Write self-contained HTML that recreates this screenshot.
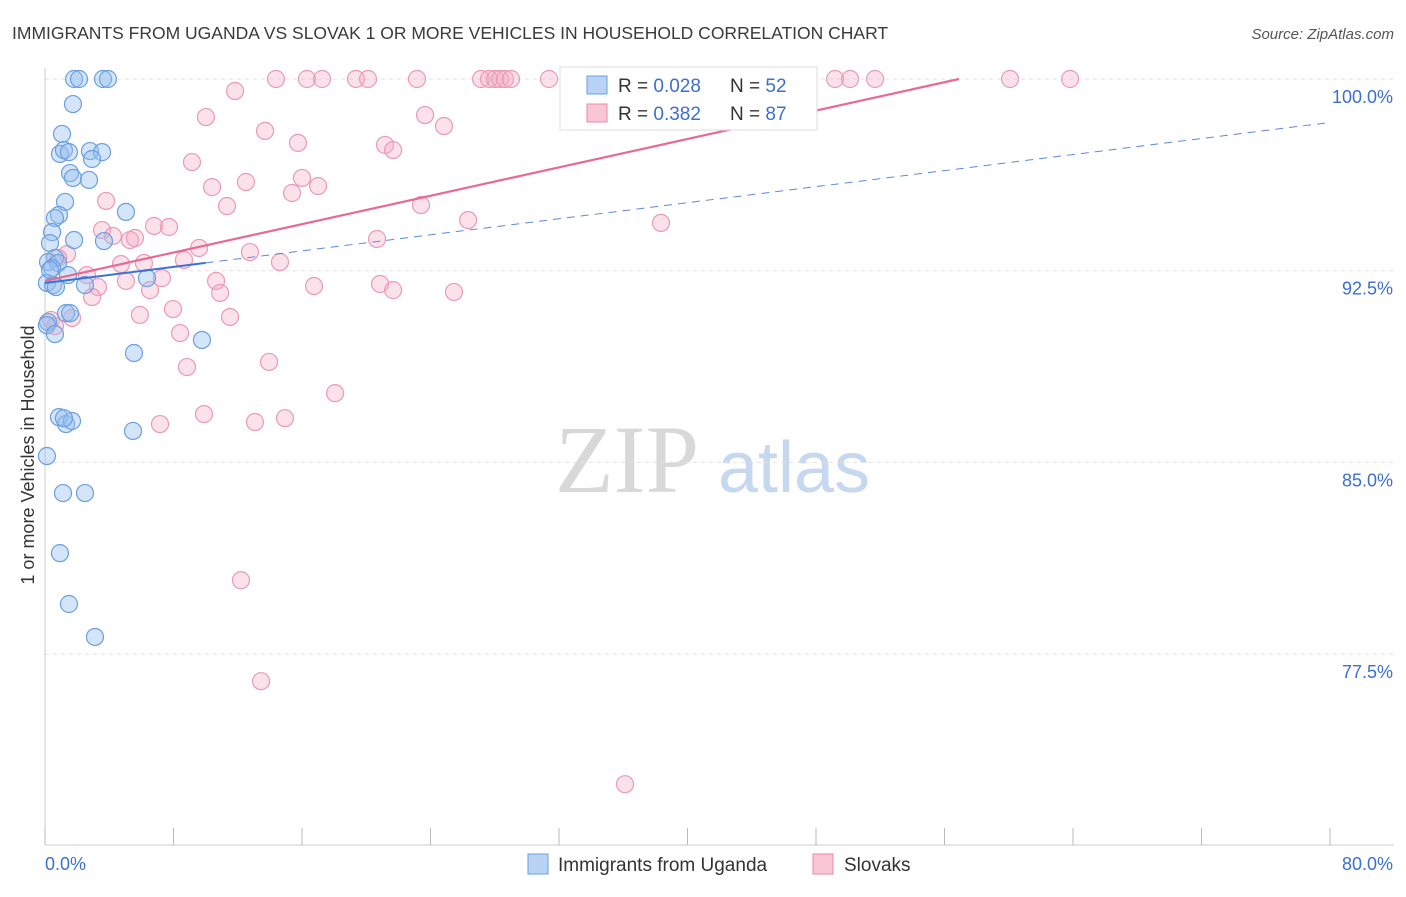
<!DOCTYPE html>
<html><head><meta charset="utf-8"><style>
body{margin:0;background:#fff;font-family:"Liberation Sans",sans-serif;}
</style></head><body>
<svg id="c" width="1406" height="892" xmlns="http://www.w3.org/2000/svg">
<text x="12" y="39" font-size="17.5" fill="#3a3a3a">IMMIGRANTS FROM UGANDA VS SLOVAK 1 OR MORE VEHICLES IN HOUSEHOLD CORRELATION CHART</text>
<text x="1394" y="39" font-size="15" fill="#555" font-style="italic" text-anchor="end">Source: ZipAtlas.com</text>
<text x="555" y="492" font-size="96" fill="#d8d8d8" font-family="Liberation Serif,serif">ZIP</text>
<text x="718" y="492" font-size="72" fill="#c5d8f0">atlas</text>
<text transform="translate(34,455) rotate(-90)" font-size="18" fill="#333" text-anchor="middle">1 or more Vehicles in Household</text>
<g id="grid"></g><g id="ticks"></g><g id="marks"></g>
<g>
<rect x="560" y="67" width="257" height="63" fill="#fff" stroke="#ddd"/>
<rect x="587" y="76" width="20" height="18" fill="#b9d3f5" stroke="#6a9fe0"/>
<rect x="587" y="104" width="20" height="18" fill="#f8c6d4" stroke="#e88aa8"/>
<text x="618" y="92" font-size="19" fill="#333">R = <tspan fill="#3d6fd1">0.028</tspan><tspan x="730">N = </tspan><tspan fill="#3d6fd1">52</tspan></text>
<text x="618" y="120" font-size="19" fill="#333">R = <tspan fill="#3d6fd1">0.382</tspan><tspan x="730">N = </tspan><tspan fill="#3d6fd1">87</tspan></text>
</g>
<g>
<rect x="528" y="854" width="20" height="20" fill="#b9d3f5" stroke="#6a9fe0"/>
<text x="558" y="871" font-size="19" fill="#333">Immigrants from Uganda</text>
<rect x="813" y="854" width="20" height="20" fill="#f8c6d4" stroke="#e88aa8"/>
<text x="844" y="871" font-size="19" fill="#333">Slovaks</text>
</g>
</svg>
<script>
const xTicks=[0,8,16,24,32,40,48,56,64,72,80];
const yTicks=[77.5,85,92.5,100];
const yTickLabels=["77.5%","85.0%","92.5%","100.0%"];
const ugandaX=[1.81,2.12,3.61,3.92,1.74,1.06,0.93,1.18,1.49,2.80,3.55,2.93,1.56,1.74,2.74,1.25,5.04,0.87,0.62,0.44,0.31,1.81,3.67,0.62,0.19,0.81,0.44,1.43,0.12,0.50,2.49,6.35,1.31,1.56,0.19,0.12,0.62,5.54,9.77,0.87,1.31,1.68,1.18,5.48,0.12,1.12,2.49,0.93,1.49,3.11,0.31,0.68];
const ugandaY=[100,100,100,100,99.02,97.85,97.07,97.22,97.14,97.18,97.14,96.87,96.32,96.13,96.05,95.19,94.80,94.68,94.56,94.01,93.58,93.70,93.66,93.00,92.84,92.80,92.60,92.33,92.02,91.94,91.94,92.21,90.84,90.84,90.49,90.37,90.02,89.28,89.79,86.77,86.50,86.62,86.73,86.23,85.25,83.80,83.80,81.45,79.46,78.17,92.53,91.86];
const slovakX=[14.38,16.31,17.25,19.36,20.11,23.16,27.15,27.64,28.02,28.33,28.64,29.01,31.38,37.79,49.19,50.12,51.68,60.08,63.82,11.83,10.02,23.66,24.84,13.70,15.75,21.17,21.67,9.15,16.00,12.51,17.00,15.38,10.40,11.33,23.41,3.80,26.34,38.35,6.79,7.72,3.55,4.23,5.29,5.60,9.59,20.67,12.76,1.37,0.81,4.73,6.16,8.65,14.63,2.61,5.04,7.28,10.65,3.30,6.54,10.90,16.75,20.86,21.67,25.46,2.93,5.91,7.97,11.52,1.68,0.37,0.62,8.41,13.95,8.84,18.06,9.90,7.16,13.07,14.94,12.20,13.45,36.11];
const slovakY=[100,100,100,100,100,100,100,100,100,100,100,100,100,100,100,100,100,100,100,99.53,98.51,98.59,98.16,97.97,97.50,97.42,97.22,96.75,96.13,95.97,95.81,95.54,95.77,95.03,95.07,95.23,94.48,94.37,94.25,94.21,94.09,93.86,93.70,93.78,93.39,93.74,93.23,93.15,93.00,92.76,92.80,92.92,92.84,92.33,92.10,92.21,92.10,91.86,91.74,91.63,91.90,91.98,91.74,91.67,91.47,90.77,91.00,90.69,90.65,90.57,90.33,90.06,88.93,88.73,87.71,86.89,86.50,86.58,86.73,80.39,76.44,72.41];
const ugandaTrend=[92.02,98.3];
const slovakTrend=[92.1,100];
const X=v=>45+v/80*1285;
const Y=v=>79+(100-v)*25.56;
const NS="http://www.w3.org/2000/svg";
function mk(p,t,a){const e=document.createElementNS(NS,t);for(const k in a)e.setAttribute(k,a[k]);p.appendChild(e);return e;}
const grid=document.getElementById('grid'),ticks=document.getElementById('ticks'),marks=document.getElementById('marks');
yTicks.forEach((t,i)=>{
 const l=mk(grid,'line',{x1:45,x2:1394,y1:Y(t),y2:Y(t),stroke:'#e2e2e2','stroke-dasharray':'4,4'});
 
 
 const tx=mk(ticks,'text',{x:1393,y:Y(t)+24,'font-size':18,fill:'#3d6fd1','text-anchor':'end'});
 tx.textContent=yTickLabels[i];
 
 
});
const ax=mk(ticks,'line',{x1:45,x2:45,y1:68,y2:845,stroke:'#ccc'});


const bx=mk(ticks,'line',{x1:45,x2:1394,y1:845,y2:845,stroke:'#ccc'});


xTicks.forEach(t=>{
 const l=mk(ticks,'line',{x1:X(t),x2:X(t),y1:828,y2:845,stroke:'#bbb'});
 
 
});
const x0=mk(ticks,'text',{x:45,y:870,'font-size':18,fill:'#3d6fd1'});x0.textContent=xTicks[0].toFixed(1)+'%';


const x1=mk(ticks,'text',{x:1393,y:870,'font-size':18,fill:'#3d6fd1','text-anchor':'end'});x1.textContent=xTicks[xTicks.length-1].toFixed(1)+'%';


slovakX.forEach((v,i)=>{
 const c=mk(marks,'circle',{cx:X(v),cy:Y(slovakY[i]),r:8.5,fill:'rgba(244,170,195,0.35)',stroke:'#eb9ab5','stroke-width':1.2});
 
 
});
ugandaX.forEach((v,i)=>{
 const c=mk(marks,'circle',{cx:X(v),cy:Y(ugandaY[i]),r:8.5,fill:'rgba(150,190,240,0.4)',stroke:'#6a9fe0','stroke-width':1.2});
 
 
});
// trend lines
const ue=X(10);
const uy=v=>ugandaTrend[0]+(ugandaTrend[1]-ugandaTrend[0])*v/80;
const l1=mk(marks,'line',{x1:X(0),y1:Y(uy(0)),x2:ue,y2:Y(uy(10)),stroke:'#3d72d6','stroke-width':2});


const l2=mk(marks,'line',{x1:ue,y1:Y(uy(10)),x2:X(80),y2:Y(uy(80)),stroke:'#5a8ad8','stroke-width':1,'stroke-dasharray':'8,6'});


const sx=80*(100-slovakTrend[0])/((slovakTrend[1]-slovakTrend[0])/ (56.9/80) *1);
const endX=56.9;
const l3=mk(marks,'line',{x1:X(0),y1:Y(slovakTrend[0]),x2:X(endX),y2:Y(slovakTrend[1]),stroke:'#e86a94','stroke-width':2.2});


</script>
</body></html>
